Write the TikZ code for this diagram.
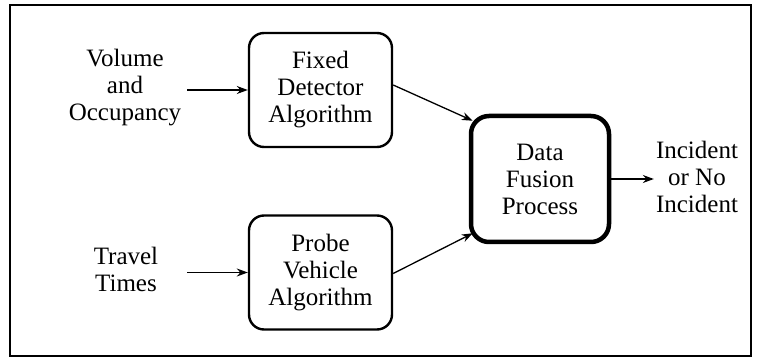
\documentclass[tikz,border=0pt]{standalone}
\usepackage{fontspec}
\setmainfont{Liberation Serif}
\usetikzlibrary{arrows.meta,calc}
\begin{document}
\begin{tikzpicture}[x=1pt,y=-1pt,
  txt/.style={align=center,font=\fontsize{25}{27}\selectfont,inner sep=0pt},
  procbox/.style={txt,draw,line width=2.4pt,rounded corners=15pt,minimum width=143pt,minimum height=114pt},
  fusionbox/.style={txt,draw,line width=4.5pt,rounded corners=18pt,minimum width=138pt,minimum height=126pt},
  arr/.style={line width=1.3pt,-{Stealth[length=11pt,width=8pt]}}]
\useasboundingbox (0,0) rectangle (764,358);
\draw[line width=1.5pt] (10,5) rectangle (751,356);
\node[procbox] (fixed) at (320.5,90) {Fixed\\Detector\\Algorithm};
\node[procbox] (probe) at (320.5,272.5) {Probe\\Vehicle\\Algorithm};
\node[fusionbox] (fusion) at (540,179) {Data\\Fusion\\Process};
\node[txt] (in1) at (125,88) {Volume\\and\\Occupancy};
\node[txt] (in2) at (126,269) {Travel\\Times};
\node[txt] (out) at (697,177) {Incident\\or No\\Incident};
\coordinate (s1) at (187,89);
\coordinate (s2) at (187,273);
\draw[arr] (s1 |- fixed.west) -- (fixed.west);
\draw[arr] (s2 |- probe.west) -- (probe.west);
\draw[arr] ([yshift=5pt]fixed.east) -- ($(fusion.north west)+(4,7)$);
\draw[arr] ([yshift=-1pt]probe.east) -- ($(fusion.south west)+(4,-11)$);
\draw[arr] (fusion.east) -- ([xshift=-2pt]out.west |- fusion.east);
\end{tikzpicture}
\end{document}
